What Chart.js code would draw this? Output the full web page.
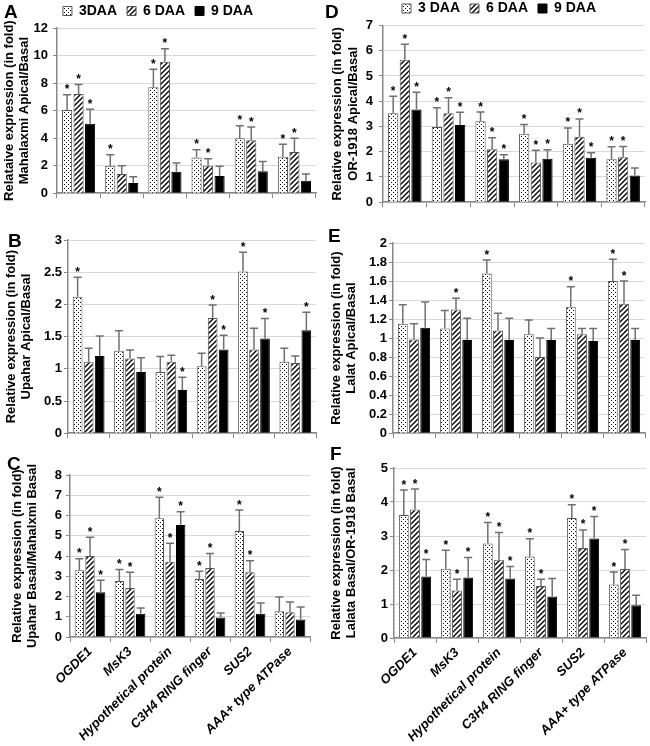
<!DOCTYPE html>
<html><head><meta charset="utf-8">
<script src="https://cdn.jsdelivr.net/npm/chart.js@4.4.1/dist/chart.umd.min.js"></script>
<style>
html,body{margin:0;padding:0;background:#fff;overflow:hidden;}
#wrap{position:relative;width:650px;height:746px;overflow:hidden;background:#fff;}
canvas{position:absolute;}
.lbl{position:absolute;font:bold 19px "Liberation Sans",Arial,sans-serif;line-height:19px;color:#000;}
</style></head><body>
<div id="wrap">
<canvas id="cA" width="325" height="206" style="left:0px;top:0px"></canvas>
<canvas id="cD" width="348" height="216" style="left:325px;top:0px"></canvas>
<canvas id="cB" width="325" height="221" style="left:0px;top:222px"></canvas>
<canvas id="cE" width="325" height="221" style="left:325px;top:222px"></canvas>
<canvas id="cC" width="325" height="296" style="left:0px;top:450px"></canvas>
<canvas id="cF" width="325" height="301" style="left:325px;top:445px"></canvas>
<div class="lbl" style="left:4px;top:2px">A</div>
<div class="lbl" style="left:8px;top:231px">B</div>
<div class="lbl" style="left:7px;top:454px">C</div>
<div class="lbl" style="left:325px;top:2px">D</div>
<div class="lbl" style="left:328px;top:226px">E</div>
<div class="lbl" style="left:330px;top:444px">F</div>
</div>
<script>
// ---------- data ----------
const categories = ['OGDE1', 'MsK3', 'Hypothetical protein', 'C3H4 RING finger', 'SUS2', 'AAA+ type ATPase'];
const legendA = ['3DAA', '6 DAA', '9 DAA'];
const legendD = ['3 DAA', '6 DAA', '9 DAA'];

// Panel A: Mahalaxmi Apical/Basal
const a3 = [6.05, 2.0, 7.7, 2.6, 4.0, 2.65];
const a3sd = [1.1, 0.8, 1.3, 0.55, 0.9, 0.9];
const a3star = [1, 1, 1, 1, 1, 1];
const a6 = [7.2, 1.4, 9.55, 2.0, 3.85, 3.0];
const a6sd = [0.7, 0.6, 0.95, 0.5, 0.95, 1.0];
const a6star = [1, 0, 1, 1, 1, 1];
const a9 = [5.05, 0.75, 1.55, 1.25, 1.6, 0.9];
const a9sd = [1.05, 0.45, 0.65, 0.7, 0.7, 0.5];
const a9star = [1, 0, 0, 0, 0, 0];
const ticksA = [0, 2, 4, 6, 8, 10, 12];

// Panel B: Upahar Apical/Basal
const b3 = [2.12, 1.28, 0.95, 1.04, 2.51, 1.11];
const b3sd = [0.3, 0.31, 0.24, 0.2, 0.3, 0.21];
const b3star = [1, 0, 0, 0, 1, 0];
const b6 = [1.11, 1.16, 1.11, 1.79, 1.3, 1.09];
const b6sd = [0.21, 0.13, 0.1, 0.2, 0.33, 0.11];
const b6star = [0, 0, 0, 1, 0, 0];
const b9 = [1.2, 0.95, 0.67, 1.3, 1.47, 1.6];
const b9sd = [0.31, 0.22, 0.2, 0.22, 0.31, 0.28];
const b9star = [0, 0, 1, 1, 1, 1];
const ticksB = [0, 0.5, 1, 1.5, 2, 2.5, 3];

// Panel C: Upahar Basal/Mahalxmi Basal
const c3 = [3.3, 2.77, 5.86, 2.87, 5.24, 1.27];
const c3sd = [0.57, 0.56, 1.04, 0.38, 1.03, 0.71];
const c3star = [1, 1, 1, 1, 1, 0];
const c6 = [4.0, 2.42, 3.71, 3.41, 3.2, 1.22];
const c6sd = [0.93, 0.78, 0.92, 0.71, 0.57, 0.51];
const c6star = [1, 1, 1, 1, 1, 0];
const c9 = [2.21, 1.15, 5.53, 0.96, 1.15, 0.86];
const c9sd = [0.59, 0.28, 0.66, 0.23, 0.53, 0.62];
const c9star = [1, 0, 1, 0, 0, 0];
const ticksC = [0, 1, 2, 3, 4, 5, 6, 7, 8];

// Panel D: OR-1918 Apical/Basal
const d3 = [3.52, 2.98, 3.21, 2.71, 2.32, 1.7];
const d3sd = [0.68, 0.76, 0.36, 0.37, 0.62, 0.5];
const d3star = [1, 1, 1, 1, 1, 1];
const d6 = [5.64, 3.52, 2.1, 1.57, 2.59, 1.78];
const d6sd = [0.62, 0.62, 0.45, 0.49, 0.71, 0.43];
const d6star = [1, 1, 1, 1, 1, 1];
const d9 = [3.67, 3.06, 1.7, 1.72, 1.76, 1.06];
const d9sd = [0.69, 0.5, 0.18, 0.36, 0.2, 0.29];
const d9star = [1, 1, 1, 1, 1, 0];
const ticksD = [0, 1, 2, 3, 4, 5, 6, 7];

// Panel E: Lalat Apical/Basal
const e3 = [1.15, 1.1, 1.68, 1.04, 1.33, 1.6];
const e3sd = [0.2, 0.19, 0.14, 0.15, 0.21, 0.23];
const e3star = [0, 0, 1, 0, 1, 1];
const e6 = [0.985, 1.3, 1.08, 0.8, 1.04, 1.36];
const e6sd = [0.165, 0.12, 0.18, 0.2, 0.06, 0.24];
const e6star = [0, 1, 0, 0, 0, 1];
const e9 = [1.11, 0.98, 0.98, 0.98, 0.97, 0.98];
const e9sd = [0.27, 0.23, 0.23, 0.12, 0.13, 0.12];
const e9star = [0, 0, 0, 0, 0, 0];
const ticksE = [0, 0.2, 0.4, 0.6, 0.8, 1, 1.2, 1.4, 1.6, 1.8, 2];

// Panel F: Lalata Basal/OR-1918 Basal
const f3 = [3.62, 2.04, 2.78, 2.4, 3.53, 1.57];
const f3sd = [0.73, 0.54, 0.62, 0.52, 0.39, 0.37];
const f3star = [1, 1, 1, 1, 1, 1];
const f6 = [3.78, 1.4, 2.3, 1.53, 2.65, 2.03];
const f6sd = [0.6, 0.33, 0.8, 0.2, 0.53, 0.57];
const f6star = [1, 1, 1, 1, 1, 1];
const f9 = [1.81, 1.78, 1.75, 1.22, 2.93, 0.96];
const f9sd = [0.5, 0.59, 0.35, 0.53, 0.64, 0.3];
const f9star = [1, 1, 1, 0, 1, 0];
const ticksF = [0, 0.5, 1, 1.5, 2, 2.5, 3, 3.5, 4, 4.5, 5];

// ---------- drawing ----------
const FAM = '"Liberation Sans", Arial, Helvetica, sans-serif';

function dotPattern(ctx) {
  const c = document.createElement('canvas'); c.width = 4; c.height = 4;
  const g = c.getContext('2d');
  g.fillStyle = '#fff'; g.fillRect(0, 0, 4, 4);
  g.fillStyle = '#000'; g.fillRect(0, 0, 1, 1); g.fillRect(2, 2, 1, 1);
  return ctx.createPattern(c, 'repeat');
}
function hatchPattern(ctx) {
  const s = 5; const c = document.createElement('canvas'); c.width = s; c.height = s;
  const g = c.getContext('2d');
  g.fillStyle = '#fff'; g.fillRect(0, 0, s, s);
  g.strokeStyle = '#000'; g.lineWidth = 1.4;
  g.beginPath();
  g.moveTo(0, s); g.lineTo(s, 0);
  g.moveTo(-1, 1); g.lineTo(1, -1);
  g.moveTo(s - 1, s + 1); g.lineTo(s + 1, s - 1);
  g.stroke();
  return ctx.createPattern(c, 'repeat');
}

const errStars = {
  id: 'errStars',
  afterDatasetsDraw(chart) {
    const ctx = chart.ctx, y = chart.scales.y;
    ctx.save();
    chart.data.datasets.forEach((ds, i) => {
      const meta = chart.getDatasetMeta(i);
      meta.data.forEach((bar, j) => {
        const yt = y.getPixelForValue(ds.data[j] + ds.sd[j]);
        const x = bar.x;
        ctx.strokeStyle = '#707070'; ctx.lineWidth = 1.5;
        ctx.beginPath();
        ctx.moveTo(x, bar.y); ctx.lineTo(x, yt);
        ctx.moveTo(x - 4, yt); ctx.lineTo(x + 4, yt);
        ctx.stroke();
        if (ds.stars[j]) {
          ctx.fillStyle = '#000';
          ctx.font = 'bold 12px ' + FAM;
          ctx.textAlign = 'center'; ctx.textBaseline = 'alphabetic';
          ctx.fillText('*', x, yt - 1.5);
        }
      });
    });
    ctx.restore();
  }
};

function panel(p) {
  const cv = document.getElementById(p.id);
  const ctx = cv.getContext('2d');
  const fills = [dotPattern(ctx), hatchPattern(ctx), '#000'];
  const borders = ['#555', '#555', '#000'];
  const scales = {
    x: {
      type: 'category', offset: true,
      grid: { display: true, drawOnChartArea: false, drawTicks: true, tickLength: 5, tickColor: '#888', offset: true },
      border: { display: true, color: '#888', width: 1.5 },
      ticks: { display: p.showX, color: '#000', font: { family: FAM, size: 13, weight: 'bold', style: 'italic' },
               minRotation: 45, maxRotation: 45, autoSkip: false, padding: 2 },
      afterFit(s) { s.height = p.xH; }
    },
    y: {
      min: 0, max: p.ticks[p.ticks.length - 1],
      afterBuildTicks(s) { s.ticks = p.ticks.map(v => ({ value: v })); },
      ticks: { color: '#000', font: { family: FAM, size: 13, weight: 'bold' }, padding: p.tickPad, callback: v => String(v) },
      grid: { color: '#d9d9d9', lineWidth: 1, tickLength: 4, tickColor: '#888' },
      border: { display: true, color: '#888', width: 1.5 },
      title: { display: true, text: p.title, color: '#000', font: { family: FAM, size: 13, weight: 'bold', lineHeight: 1.2 }, padding: { top: p.titlePad, bottom: 0 } },
      afterFit(s) { s.width = p.yW; }
    }
  };
  if (p.rightW) {
    scales.yr = { position: 'right', display: true, grid: { display: false, drawTicks: false }, border: { display: false }, ticks: { display: false }, afterFit(s) { s.width = p.rightW; } };
  }
  return new Chart(ctx, {
    type: 'bar',
    data: {
      labels: categories,
      datasets: [0, 1, 2].map(i => ({
        label: p.names[i], data: p.vals[i], sd: p.sds[i], stars: p.stars[i],
        backgroundColor: fills[i], borderColor: borders[i], borderWidth: 1,
        categoryPercentage: 0.8, barPercentage: 0.88, yAxisID: 'y'
      }))
    },
    options: {
      responsive: false, animation: false, devicePixelRatio: 1,
      layout: { padding: p.pad },
      plugins: {
        legend: { display: p.legend, position: 'top', align: 'center',
          labels: { boxWidth: 9, boxHeight: 9, padding: 10, color: '#000', font: { family: FAM, size: 14, weight: 'bold' } } },
        tooltip: { enabled: false }
      },
      scales
    },
    plugins: [errStars]
  });
}

panel({ id: 'cA', names: legendA, vals: [a3, a6, a9], sds: [a3sd, a6sd, a9sd], stars: [a3star, a6star, a9star],
  ticks: ticksA, title: ['Relataive expression (in fold)', 'Mahalaxmi Apical/Basal'],
  legend: true, showX: false, pad: { top: -6, right: 9, left: 0, bottom: 0 }, yW: 57, xH: 6, tickPad: 5, titlePad: 1.5 });
panel({ id: 'cD', names: legendD, vals: [d3, d6, d9], sds: [d3sd, d6sd, d9sd], stars: [d3star, d6star, d9star],
  ticks: ticksD, title: ['Relative expression (in fold)', 'OR-1918 Apical/Basal'],
  legend: true, showX: false, pad: { top: -8.5, right: 0, left: 0, bottom: 0 }, yW: 58, xH: 6, tickPad: 6, titlePad: 5, rightW: 28 });
panel({ id: 'cB', names: legendA, vals: [b3, b6, b9], sds: [b3sd, b6sd, b9sd], stars: [b3star, b6star, b9star],
  ticks: ticksB, title: ['Relative expression (in fold)', 'Upahar Apical/Basal'],
  legend: false, showX: false, pad: { top: 18, right: 9, left: 0, bottom: 0 }, yW: 68, xH: 6, tickPad: 2, titlePad: 3.5 });
panel({ id: 'cE', names: legendD, vals: [e3, e6, e9], sds: [e3sd, e6sd, e9sd], stars: [e3star, e6star, e9star],
  ticks: ticksE, title: ['Relative expression (in fold)', 'Lalat Apical/Basal'],
  legend: false, showX: false, pad: { top: 21, right: 5, left: 0, bottom: 0 }, yW: 68, xH: 6, tickPad: 2, titlePad: 3.5 });
panel({ id: 'cC', names: legendA, vals: [c3, c6, c9], sds: [c3sd, c6sd, c9sd], stars: [c3star, c6star, c9star],
  ticks: ticksC, title: ['Relative expression (in fold)', 'Upahar Basal/Mahalxmi Basal'],
  legend: false, showX: true, pad: { top: 25, right: 15, left: 0, bottom: 0 }, yW: 70, xH: 109, tickPad: 4, titlePad: 9.5 });
panel({ id: 'cF', names: legendD, vals: [f3, f6, f9], sds: [f3sd, f6sd, f9sd], stars: [f3star, f6star, f9star],
  ticks: ticksF, title: ['Relative expression (in fold)', 'Lalata Basal/OR-1918 Basal'],
  legend: false, showX: true, pad: { top: 23, right: 4, left: 0, bottom: 0 }, yW: 69, xH: 108, tickPad: 2, titlePad: 3.5 });
</script>
</body></html>
